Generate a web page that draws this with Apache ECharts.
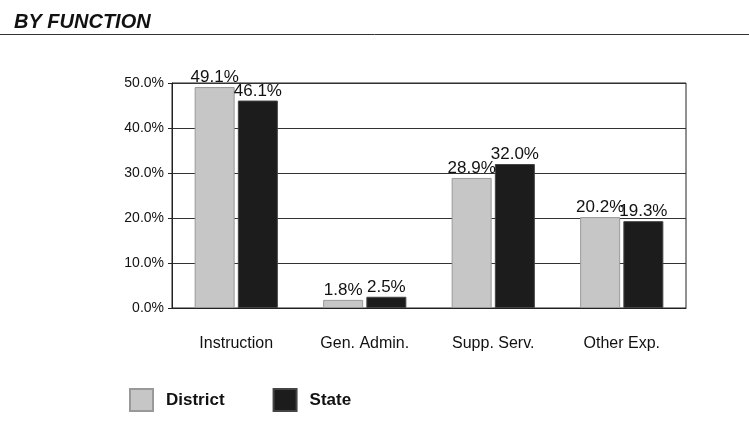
<!DOCTYPE html>
<html>
<head>
<meta charset="utf-8">
<script src="https://cdn.jsdelivr.net/npm/echarts@6/dist/echarts.min.js"></script>
<style>
html,body{margin:0;padding:0;background:#fff;}
#c{width:749px;height:434px;}
</style>
</head>
<body>
<div id="c"></div>
<script>
const categories = ["Instruction", "Gen. Admin.", "Supp. Serv.", "Other Exp."];
const districtValues = [49.1, 1.8, 28.9, 20.2];
const stateValues = [46.1, 2.5, 32.0, 19.3];
const yTicks = [0, 10, 20, 30, 40, 50];

const chart = echarts.init(document.getElementById('c'));
const font = '"Liberation Sans", Arial, sans-serif';
chart.setOption({
  animation: false,
  backgroundColor: '#fff',
  title: {
    text: 'BY FUNCTION',
    left: 9, top: 7,
    textStyle: {fontFamily: font, fontSize: 20, fontWeight: 'bold', fontStyle: 'italic', color: '#111'}
  },
  graphic: [{
    type: 'line', shape: {x1: 0, y1: 34.5, x2: 749, y2: 34.5},
    style: {stroke: '#333', lineWidth: 1}
  }],
  legend: {
    left: 129, top: 388, padding: 0,
    itemWidth: 23, itemHeight: 22, itemGap: 48,
    icon: 'rect',
    textStyle: {fontFamily: font, fontSize: 17, fontWeight: 'bold', color: '#111', padding: [0,0,0,8]},
    data: ['District', 'State']
  },
  grid: {
    left: 172, right: 63, top: 83, bottom: 126,
    show: true, borderColor: '#222', borderWidth: 1
  },
  xAxis: {
    type: 'category', data: categories,
    axisLine: {lineStyle: {color: '#222'}},
    axisTick: {show: false},
    axisLabel: {fontFamily: font, fontSize: 16, color: '#111', margin: 28}
  },
  yAxis: {
    type: 'value', min: yTicks[0], max: yTicks[yTicks.length-1], interval: 10,
    axisLine: {show: true, lineStyle: {color: '#222'}},
    axisTick: {show: true, length: 4, lineStyle: {color: '#222'}},
    axisLabel: {fontFamily: font, fontSize: 14, color: '#111', margin: 8,
      formatter: v => v.toFixed(1) + '%'},
    splitLine: {lineStyle: {color: '#333', width: 1}}
  },
  series: [
    {
      name: 'District', type: 'bar', data: districtValues,
      barWidth: 40, barGap: '8%',
      itemStyle: {color: '#c6c6c6', borderColor: '#999', borderWidth: 1},
      label: {show: true, position: 'top', distance: 1, fontFamily: font, fontSize: 17, color: '#111',
        formatter: p => p.value.toFixed(1) + '%'}
    },
    {
      name: 'State', type: 'bar', data: stateValues,
      barWidth: 40,
      itemStyle: {color: '#1c1c1c', borderColor: '#444', borderWidth: 1},
      label: {show: true, position: 'top', distance: 1, fontFamily: font, fontSize: 17, color: '#111',
        formatter: p => p.value.toFixed(1) + '%'}
    }
  ]
});
</script>
</body>
</html>
